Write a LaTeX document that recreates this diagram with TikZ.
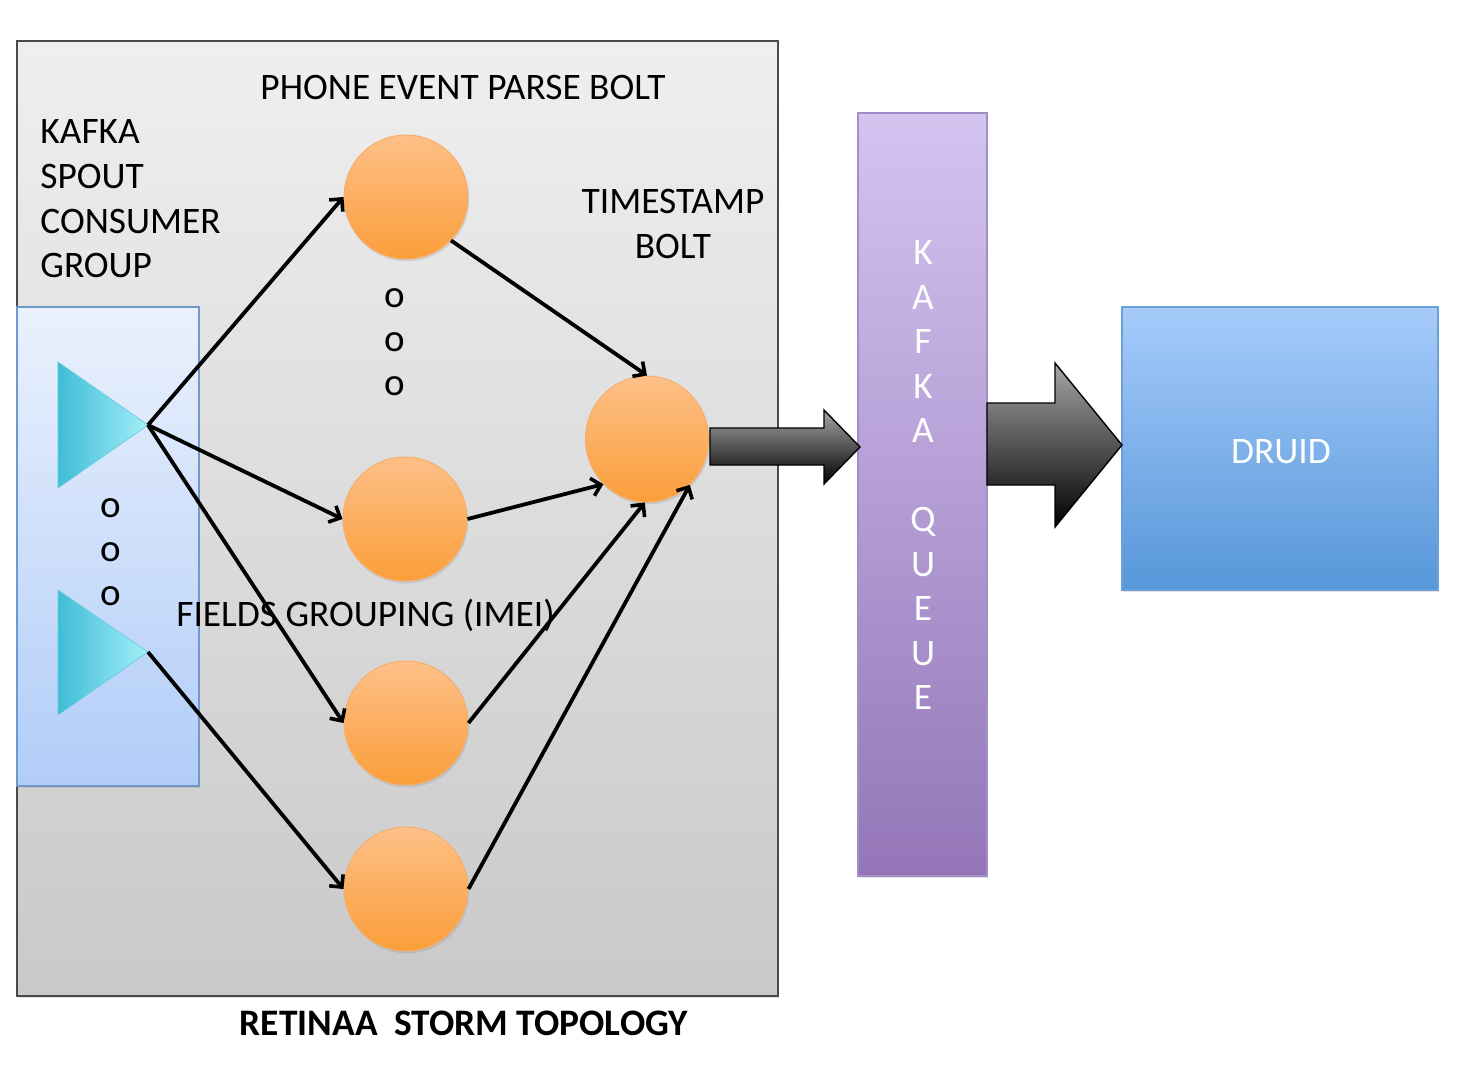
\documentclass[tikz,border=0pt]{standalone}
\usepackage{fontspec}
\setmainfont{Carlito}
\usetikzlibrary{arrows.meta,shadows,shapes.geometric}
\definecolor{boxtop}{HTML}{EFEFEF}
\definecolor{boxbot}{HTML}{C9C9C9}
\definecolor{boxline}{HTML}{4A4A4A}
\definecolor{spouttop}{HTML}{EAF1FD}
\definecolor{spoutbot}{HTML}{B1CDF8}
\definecolor{spoutline}{HTML}{6F98CC}
\definecolor{tril}{HTML}{3FBDD6}
\definecolor{trir}{HTML}{A3EEF7}
\definecolor{orgtop}{HTML}{FDC088}
\definecolor{orgbot}{HTML}{FB9E3A}
\definecolor{orgline}{HTML}{F6AE6A}
\definecolor{kqtop}{HTML}{D4C4F0}
\definecolor{kqbot}{HTML}{9476B8}
\definecolor{kqline}{HTML}{A48EC9}
\definecolor{drtop}{HTML}{A6CBFA}
\definecolor{drbot}{HTML}{5797DA}
\definecolor{drline}{HTML}{6F9FDB}
\tikzset{
  lbl/.style={font=\fontsize{18.7}{22}\selectfont, inner sep=0pt, text=black},
  wlbl/.style={lbl, text=white},
  softshadow/.style={drop shadow={opacity=0.22, shadow xshift=0.6pt, shadow yshift=-1.2pt}},
  bolt/.style={circle, minimum size=62pt, inner sep=0pt, draw=orgline, line width=0.5pt, top color=orgtop, bottom color=orgbot, softshadow},
  conn/.style={-{Straight Barb[length=4.5pt,width=9pt,line width=1.8pt]}, line width=1.9pt, black},
  fat/.style={draw=black, line width=0.7pt, top color=black!35, bottom color=black},
  dots/.style={lbl, align=center, font=\fontsize{19.5}{22}\selectfont}
}
\begin{document}
\begin{tikzpicture}[x=0.5pt,y=-0.5pt]
\useasboundingbox (0,0) rectangle (1468,1078);
\fill[white] (0,0) rectangle (1468,1078);
% main topology box
\path[draw=boxline, line width=1.1pt, top color=boxtop, bottom color=boxbot, softshadow] (17,41) rectangle (778,996);
% spout box
\path[draw=spoutline, line width=0.9pt, top color=spouttop, bottom color=spoutbot, softshadow] (17,307) rectangle (199,786);
% triangles (spouts)
\path[draw=tril!80, line width=0.3pt, left color=tril, right color=trir] (58,362) -- (58,488) -- (148,425) -- cycle;
\path[draw=tril!80, line width=0.3pt, left color=tril, right color=trir] (58,590) -- (58,715) -- (148,652) -- cycle;
\coordinate (s1) at (148,425);
\coordinate (s2) at (148,652);
% bolts
\node[bolt] (c1) at (406,197) {};
\node[bolt] (c2) at (405,519) {};
\node[bolt] (c3) at (406,723) {};
\node[bolt] (c4) at (406,889) {};
\node[bolt, ellipse, minimum width=61.5pt, minimum height=63pt] (ts) at (647,439) {};
% labels
\node[lbl] (lphone) at (463,87) {PHONE EVENT PARSE BOLT};
\node[lbl, align=left, anchor=west] (lkafka) at (40,199) {KAFKA\\[0.3pt]SPOUT\\[0.3pt]CONSUMER\\[0.3pt]GROUP};
\node[lbl, align=center] (lts) at (673,223.5) {TIMESTAMP\\[0.5pt]BOLT};
\node[lbl, anchor=west] (lfields) at (176,615) {FIELDS GROUPING (IMEI)};
\node[lbl, font=\fontsize{18.7}{22}\selectfont\bfseries] (ltitle) at (464,1023) {RETINAA\ \ STORM TOPOLOGY};
\node[dots] (d1) at (395,342) {o\\o\\o};
\node[dots] (d2) at (111,552) {o\\o\\o};
% connectors
\draw[conn] (s1) -- (c1.west);
\draw[conn] (s1) -- (c2.west);
\draw[conn] (s1) -- (c3.west);
\draw[conn] (s2) -- (c4.west);
\draw[conn] (c1.-44) -- (ts.north);
\draw[conn] (c2.east) -- (ts.226);
\draw[conn] (c3.east) -- (ts.-92);
\draw[conn] (c4.east) -- (ts.-47);
% kafka queue
\path[draw=kqline, line width=0.8pt, top color=kqtop, bottom color=kqbot, softshadow] (858,113) rectangle (987,876);
\node[wlbl, align=center, font=\fontsize{18.7}{22.25}\selectfont] (kq) at (923,475) {K\\A\\F\\K\\A\\\strut\\Q\\U\\E\\U\\E};
% druid
\path[draw=drline, line width=0.8pt, top color=drtop, bottom color=drbot, softshadow] (1122,307) rectangle (1438,590);
\node[wlbl] (druid) at (1281,452) {DRUID};
% fat arrows
\path[fat] (710,428) -- (824,428) -- (824,410) -- (860,447) -- (824,484) -- (824,465) -- (710,465) -- cycle;
\path[fat] (987,403) -- (1055,403) -- (1055,363) -- (1122,445) -- (1055,527) -- (1055,485) -- (987,485) -- cycle;
\end{tikzpicture}
\end{document}
